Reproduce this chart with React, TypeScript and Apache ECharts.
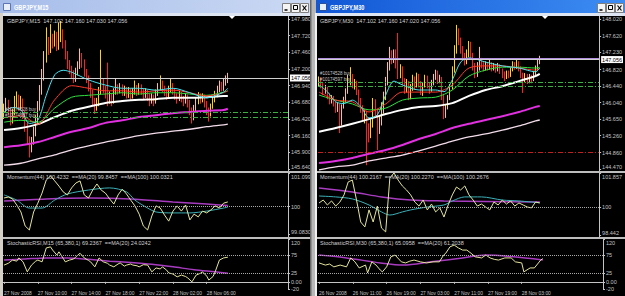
import React, { useEffect, useRef } from 'react';
import * as echarts from 'echarts';

// ---------- axes / labels ----------
const SLOTS = 135;
const LABEL_STEP = 16;
const timeLabelsL = ['27 Nov 2008', '27 Nov 10:00', '27 Nov 14:00', '27 Nov 18:00', '27 Nov 22:00', '28 Nov 02:00', '28 Nov 06:00'];
const timeLabelsR = ['26 Nov 2008', '26 Nov 11:00', '26 Nov 19:00', '27 Nov 03:00', '27 Nov 11:00', '27 Nov 19:00', '28 Nov 03:00'];

const priceTicksL = [145.64, 145.9, 146.16, 146.42, 146.68, 146.94, 147.2, 147.46, 147.72, 147.98];
const priceTicksR = [144.47, 144.86, 145.26, 145.65, 146.04, 146.44, 146.82, 147.23, 147.62, 148.02];
const priceRangeL = [145.609, 148.027];
const priceRangeR = [144.423, 148.091];
const lastPrice = 147.056;
const askPriceR = 147.1;
const orderLevelsL = [146.53, 146.45];
const orderLevelsR = [146.53, 146.43];
const stopLevelR = 144.87;

const momTicksL = [99.083, 100, 101.099];
const momTextL = ['99.0830', '100', '101.099'];
const momRangeL = [99.0, 101.099];
const momTicksR = [98.442, 100, 101.857];
const momTextR = ['98.442', '100', '101.857'];
const momRangeR = [98.36, 101.857];
const momLevel = 100;

const stochTicks = [-20, 0, 25, 75, 120];
const stochText = ['-20', '0.00', '25', '75', '120'];
const stochRange = [-20, 120];
const stochLevels = [75, 25];

// ---------- texts ----------
const titleL = 'GBPJPY,M15';
const titleR = 'GBPJPY,M30';
const headL = 'GBPJPY,M15  147.102 147.160 147.030 147.056';
const headR = 'GBPJPY,M30  147.102 147.160 147.020 147.056';
const momHeadL = 'Momentum(44) 100.4232  ==MA(20) 99.8457  ==MA(100) 100.0321';
const momHeadR = 'Momentum(44) 100.2167  ==MA(20) 100.2270  ==MA(100) 100.2676';
const stochHeadL = 'StochasticRSI,M15 (65,380,1) 69.2367  ==MA(20) 24.0242';
const stochHeadR = 'StochasticRSI,M30 (65,380,1) 65.0958  ==MA(20) 61.2038';
const orderTexts = ['#10174528 buy', '#10174597 buy'];

// ---------- candles [open, close, low, high] ----------
const candlesL = [
  [146.48, 146.58, 146.42, 146.66], [146.58, 146.66, 146.52, 146.75], [146.66, 146.55, 146.48, 146.72], [146.55, 146.40, 146.32, 146.60],
  [146.40, 146.52, 146.35, 146.58], [146.52, 146.68, 146.48, 146.78], [146.68, 146.74, 146.60, 146.85], [146.74, 146.62, 146.55, 146.80],
  [146.62, 146.70, 146.56, 146.78], [146.70, 146.50, 146.42, 146.74], [146.50, 146.30, 146.22, 146.55], [146.30, 146.10, 146.02, 146.36],
  [146.10, 145.98, 145.82, 146.15], [145.98, 146.08, 145.90, 146.14], [146.08, 146.22, 146.02, 146.30], [146.22, 146.40, 146.15, 146.48],
  [146.40, 146.62, 146.35, 146.70], [146.62, 146.85, 146.55, 146.95], [146.85, 147.10, 146.80, 147.20], [147.10, 147.38, 147.02, 147.48],
  [147.38, 147.62, 147.30, 147.85], [147.62, 147.50, 147.42, 147.70], [147.50, 147.68, 147.45, 147.90], [147.68, 147.60, 147.52, 147.75],
  [147.60, 147.72, 147.55, 147.80], [147.72, 147.55, 147.48, 147.78], [147.55, 147.70, 147.50, 147.92], [147.70, 147.78, 147.62, 147.95],
  [147.78, 147.60, 147.52, 147.82], [147.60, 147.42, 147.35, 147.65], [147.42, 147.28, 147.20, 147.48], [147.28, 147.20, 147.12, 147.34],
  [147.20, 147.12, 147.05, 147.25], [147.12, 147.05, 146.98, 147.18], [147.05, 147.15, 147.00, 147.22], [147.15, 147.25, 147.10, 147.32],
  [147.25, 147.38, 147.20, 147.52], [147.38, 147.30, 147.22, 147.45], [147.30, 147.15, 147.08, 147.35], [147.15, 147.05, 146.98, 147.20],
  [147.05, 146.92, 146.85, 147.10], [146.92, 146.82, 146.75, 146.98], [146.82, 146.70, 146.62, 146.88], [146.70, 146.60, 146.50, 146.75],
  [146.60, 146.68, 146.55, 146.75], [146.68, 146.85, 146.62, 146.92], [146.85, 147.00, 146.80, 147.50], [147.00, 146.88, 146.82, 147.05],
  [146.88, 146.80, 146.74, 146.94], [146.80, 146.72, 146.62, 147.30], [146.72, 146.78, 146.66, 146.85], [146.78, 146.70, 146.62, 146.82],
  [146.70, 146.85, 146.66, 146.90], [146.85, 146.92, 146.80, 147.05], [146.92, 146.86, 146.80, 146.96], [146.86, 146.92, 146.82, 146.98],
  [146.92, 146.84, 146.78, 146.96], [146.84, 146.88, 146.78, 146.94], [146.88, 146.80, 146.74, 146.92], [146.80, 146.86, 146.75, 146.92],
  [146.86, 146.78, 146.72, 146.90], [146.78, 146.84, 146.74, 146.90], [146.84, 146.90, 146.80, 147.02], [146.90, 146.85, 146.78, 146.95],
  [146.85, 146.92, 146.80, 146.98], [146.92, 146.86, 146.80, 146.96], [146.86, 146.80, 146.72, 146.90], [146.80, 146.85, 146.75, 146.90],
  [146.85, 146.78, 146.70, 146.88], [146.78, 146.72, 146.62, 146.82], [146.72, 146.76, 146.66, 146.82], [146.76, 146.70, 146.62, 146.80],
  [146.70, 146.82, 146.66, 146.88], [146.82, 146.92, 146.78, 146.98], [146.92, 146.98, 146.86, 147.10], [146.98, 146.90, 146.84, 147.02],
  [146.90, 146.84, 146.78, 146.94], [146.84, 146.80, 146.72, 146.88], [146.80, 146.88, 146.76, 146.94], [146.88, 146.95, 146.84, 147.06],
  [146.95, 146.86, 146.80, 146.98], [146.86, 146.78, 146.72, 146.90], [146.78, 146.74, 146.66, 146.82], [146.74, 146.80, 146.70, 146.86],
  [146.80, 146.74, 146.68, 146.84], [146.74, 146.70, 146.62, 146.78], [146.70, 146.76, 146.66, 146.82], [146.76, 146.68, 146.60, 146.80],
  [146.68, 146.56, 146.48, 146.72], [146.56, 146.45, 146.35, 146.60], [146.45, 146.58, 146.40, 146.64], [146.58, 146.70, 146.54, 146.76],
  [146.70, 146.78, 146.65, 146.84], [146.78, 146.72, 146.66, 146.82], [146.72, 146.76, 146.68, 146.82], [146.76, 146.66, 146.60, 146.80],
  [146.66, 146.55, 146.48, 146.70], [146.55, 146.50, 146.38, 146.60], [146.50, 146.62, 146.46, 146.66], [146.62, 146.72, 146.58, 146.78],
  [146.72, 146.80, 146.68, 146.86], [146.80, 146.88, 146.76, 146.94], [146.88, 146.95, 146.84, 147.02], [146.95, 146.90, 146.85, 147.00],
  [146.90, 146.98, 146.86, 147.06], [146.98, 147.02, 146.94, 147.10], [147.02, 147.056, 146.98, 147.14],
];

const candlesR = [
  [146.48, 146.58, 146.42, 146.66], [146.58, 146.45, 146.38, 146.64], [146.45, 146.30, 146.22, 146.50], [146.30, 146.38, 146.25, 146.46],
  [146.38, 146.20, 146.12, 146.42], [146.20, 146.08, 146.00, 146.26], [146.08, 146.15, 146.02, 146.22], [146.15, 146.02, 145.95, 146.20],
  [146.02, 145.90, 145.80, 146.06], [145.90, 145.98, 145.82, 146.05], [145.98, 145.85, 145.32, 146.02], [145.85, 145.95, 145.50, 146.00],
  [145.95, 146.10, 145.90, 146.18], [146.10, 146.30, 146.05, 146.38], [146.30, 146.55, 146.25, 146.70], [146.55, 146.65, 146.45, 146.88],
  [146.65, 146.45, 146.38, 146.72], [146.45, 146.52, 146.35, 146.60], [146.52, 146.30, 146.22, 146.56], [146.30, 146.10, 146.00, 146.35],
  [146.10, 145.90, 145.80, 146.15], [145.90, 145.70, 145.60, 145.98], [145.70, 145.80, 145.55, 145.88], [145.80, 145.45, 144.56, 145.85],
  [145.45, 145.30, 145.10, 145.55], [145.30, 145.55, 145.20, 145.65], [145.55, 146.05, 145.45, 146.15], [146.05, 145.85, 145.70, 146.12],
  [145.85, 145.40, 144.92, 145.90], [145.40, 145.60, 145.30, 145.70], [145.60, 145.85, 145.50, 146.05], [145.85, 146.20, 145.78, 146.30],
  [146.20, 146.55, 146.10, 146.65], [146.55, 146.90, 146.45, 147.00], [146.90, 147.20, 146.80, 147.36], [147.20, 147.05, 146.95, 147.28],
  [147.05, 147.24, 146.98, 147.30], [147.24, 146.95, 146.85, 147.30], [146.95, 146.70, 146.60, 147.69], [146.70, 146.85, 146.62, 146.95],
  [146.85, 146.55, 146.45, 146.90], [146.55, 146.35, 146.25, 146.62], [146.35, 146.50, 146.28, 146.60], [146.50, 146.20, 146.10, 146.55],
  [146.20, 146.40, 146.12, 146.48], [146.40, 146.60, 146.32, 146.70], [146.60, 146.45, 146.35, 146.66], [146.45, 146.65, 146.40, 146.75],
  [146.65, 146.50, 146.40, 146.72], [146.50, 146.30, 146.22, 146.55], [146.30, 146.45, 146.20, 146.52], [146.45, 146.62, 146.40, 146.70],
  [146.62, 146.48, 146.38, 146.68], [146.48, 146.35, 146.25, 146.52], [146.35, 146.50, 146.30, 146.58], [146.50, 146.65, 146.45, 146.72],
  [146.65, 146.75, 146.58, 146.82], [146.75, 146.55, 146.48, 146.80], [146.55, 146.60, 146.50, 146.70], [146.60, 146.20, 146.10, 146.65],
  [146.20, 145.75, 145.65, 146.25], [145.75, 145.95, 145.68, 146.00], [145.95, 146.15, 145.88, 146.22], [146.15, 146.40, 146.10, 146.48],
  [146.40, 146.80, 146.35, 146.90], [146.80, 147.25, 146.75, 147.40], [147.25, 147.65, 147.20, 147.88], [147.65, 147.50, 147.40, 147.80],
  [147.50, 147.30, 147.20, 147.58], [147.30, 147.15, 147.05, 147.38], [147.15, 147.00, 146.92, 147.22], [147.00, 147.20, 146.95, 147.30],
  [147.20, 147.42, 147.12, 147.50], [147.42, 147.15, 147.05, 147.48], [147.15, 146.90, 146.80, 147.22], [146.90, 146.70, 146.62, 146.98],
  [146.70, 146.85, 146.65, 147.00], [146.85, 147.05, 146.80, 147.36], [147.05, 146.92, 146.85, 147.10], [146.92, 146.85, 146.78, 147.00],
  [146.85, 146.95, 146.80, 147.02], [146.95, 146.88, 146.80, 147.00], [146.88, 146.95, 146.82, 147.05], [146.95, 146.85, 146.78, 147.00],
  [146.85, 146.92, 146.80, 146.98], [146.92, 146.82, 146.75, 146.96], [146.82, 146.90, 146.78, 146.98], [146.90, 146.80, 146.72, 146.95],
  [146.80, 146.72, 146.62, 146.85], [146.72, 146.68, 146.55, 146.78], [146.68, 146.75, 146.60, 146.80], [146.75, 146.70, 146.62, 146.80],
  [146.70, 146.82, 146.65, 146.88], [146.82, 146.95, 146.78, 147.02], [146.95, 146.88, 146.82, 147.00], [146.88, 146.98, 146.84, 147.05],
  [146.98, 146.85, 146.78, 147.02], [146.85, 146.70, 146.62, 146.90], [146.70, 146.60, 146.27, 146.75], [146.60, 146.68, 146.52, 146.74],
  [146.68, 146.58, 146.48, 146.72], [146.58, 146.66, 146.50, 146.72], [146.66, 146.58, 146.50, 146.70], [146.58, 146.72, 146.55, 146.78],
  [146.72, 146.85, 146.68, 146.92], [146.85, 146.98, 146.80, 147.05], [146.98, 147.056, 146.95, 147.15],
];

// ---------- moving averages [barIndex, price] ----------
const cyanL = [[0, 146.53], [4, 146.6], [8, 146.56], [12, 146.35], [16, 146.4], [20, 146.79], [24, 147.11], [28, 147.18], [32, 147.15], [40, 147.03], [48, 146.95], [56, 146.9], [64, 146.9], [72, 146.87], [80, 146.9], [88, 146.83], [96, 146.75], [104, 146.84], [106, 146.9]];
const redL = [[0, 146.44], [8, 146.47], [16, 146.34], [24, 146.72], [32, 146.94], [40, 146.9], [48, 146.86], [56, 146.86], [64, 146.84], [72, 146.86], [80, 146.87], [88, 146.83], [96, 146.78], [104, 146.83], [106, 146.86]];
const greenL = [[0, 146.37], [8, 146.4], [16, 146.37], [24, 146.59], [32, 146.76], [40, 146.79], [48, 146.81], [56, 146.83], [64, 146.81], [72, 146.83], [80, 146.83], [88, 146.81], [96, 146.79], [104, 146.84], [106, 146.86]];
const whiteL = [[0, 146.25], [8, 146.28], [16, 146.34], [24, 146.45], [32, 146.55], [40, 146.61], [48, 146.67], [56, 146.7], [64, 146.72], [72, 146.73], [80, 146.75], [88, 146.75], [96, 146.76], [104, 146.78], [106, 146.78]];
const magentaL = [[0, 145.98], [8, 146.01], [16, 146.06], [24, 146.14], [32, 146.22], [40, 146.28], [48, 146.36], [56, 146.4], [64, 146.45], [72, 146.48], [80, 146.51], [88, 146.53], [96, 146.55], [104, 146.56], [106, 146.58]];
const pinkL = [[0, 145.7], [8, 145.73], [16, 145.8], [24, 145.86], [32, 145.94], [40, 146.0], [48, 146.06], [56, 146.11], [64, 146.16], [72, 146.2], [80, 146.23], [88, 146.26], [96, 146.3], [104, 146.33], [106, 146.34]];

const cyanR = [[0, 146.46], [4, 146.3], [8, 146.06], [12, 146.02], [16, 146.1], [20, 145.95], [24, 145.68], [28, 145.75], [32, 146.22], [36, 146.55], [40, 146.46], [48, 146.34], [56, 146.34], [60, 146.3], [64, 146.58], [68, 147.0], [72, 147.1], [80, 147.0], [88, 146.91], [96, 146.86], [104, 146.77], [106, 146.86]];
const redR = [[0, 146.29], [8, 146.1], [16, 146.06], [24, 145.82], [32, 146.01], [40, 146.29], [48, 146.29], [56, 146.29], [64, 146.46], [72, 146.86], [80, 146.91], [88, 146.91], [96, 146.86], [104, 146.81], [106, 146.86]];
const greenR = [[0, 146.22], [8, 146.1], [16, 146.01], [24, 145.87], [32, 145.91], [40, 146.1], [48, 146.15], [56, 146.17], [64, 146.34], [72, 146.67], [80, 146.81], [88, 146.88], [96, 146.88], [104, 146.86], [106, 146.88]];
const whiteR = [[0, 145.35], [8, 145.44], [16, 145.54], [24, 145.65], [32, 145.77], [40, 145.87], [48, 145.94], [56, 145.96], [64, 146.03], [72, 146.2], [80, 146.34], [88, 146.43], [96, 146.55], [104, 146.67], [106, 146.72]];
const magentaR = [[0, 144.61], [8, 144.66], [16, 144.73], [24, 144.83], [32, 144.92], [40, 145.04], [48, 145.18], [56, 145.3], [64, 145.44], [72, 145.54], [80, 145.63], [88, 145.72], [96, 145.82], [104, 145.94], [106, 145.96]];
const pinkR = [[0, 144.45], [8, 144.52], [16, 144.56], [24, 144.66], [32, 144.73], [40, 144.8], [48, 144.9], [56, 145.01], [64, 145.13], [72, 145.23], [80, 145.3], [88, 145.39], [96, 145.49], [104, 145.61], [106, 145.63]];

// ---------- momentum ----------
const momL = [[0, 100.28], [2, 100.31], [4, 100.25], [6, 100.05], [8, 99.82], [10, 99.36], [12, 99.23], [14, 99.82], [16, 100.11], [18, 100.44], [20, 100.87], [22, 101.0], [24, 100.84], [26, 100.67], [28, 100.48], [30, 100.38], [32, 100.61], [34, 100.77], [36, 100.84], [38, 100.38], [40, 100.28], [42, 100.54], [44, 100.74], [46, 100.54], [48, 100.44], [50, 100.25], [52, 100.08], [54, 100.38], [56, 100.57], [58, 100.41], [60, 100.21], [62, 100.02], [64, 99.75], [66, 99.36], [68, 99.23], [70, 99.69], [72, 100.02], [74, 99.95], [76, 99.72], [78, 99.52], [80, 99.85], [82, 100.02], [84, 99.85], [86, 100.05], [88, 99.56], [90, 99.75], [92, 99.66], [94, 99.85], [96, 99.79], [98, 99.89], [100, 100.02], [102, 99.95], [104, 100.11], [106, 100.15]];
const momMa20L = [[0, 100.38], [6, 100.21], [12, 99.95], [18, 99.95], [24, 100.21], [30, 100.41], [40, 100.54], [50, 100.61], [58, 100.48], [62, 100.21], [68, 99.95], [72, 99.82], [80, 99.79], [88, 99.79], [96, 99.85], [104, 99.95], [106, 99.98]];
const momMa100L = [[0, 100.18], [20, 100.25], [40, 100.28], [60, 100.25], [80, 100.15], [96, 100.08], [106, 100.03]];

const momR = [[0, 100.22], [2, 100.38], [4, 100.11], [6, 100.33], [8, 100.05], [10, 100.27], [12, 100.66], [14, 101.37], [16, 101.47], [18, 100.38], [20, 99.18], [22, 98.91], [24, 99.84], [26, 99.18], [28, 100.05], [30, 98.85], [32, 98.64], [34, 101.58], [36, 101.86], [38, 101.47], [40, 101.15], [42, 100.93], [44, 100.66], [46, 100.27], [48, 100.05], [50, 100.38], [52, 99.84], [54, 100.16], [56, 99.73], [58, 99.95], [60, 99.45], [62, 100.11], [64, 100.66], [66, 101.09], [68, 100.93], [70, 101.15], [72, 100.66], [74, 100.38], [76, 100.05], [78, 100.16], [80, 100.0], [82, 99.84], [84, 100.27], [86, 100.11], [88, 100.38], [90, 100.16], [92, 100.33], [94, 100.05], [96, 100.22], [98, 100.11], [100, 100.0], [102, 99.95], [104, 100.27], [106, 100.22]];
const momMa20R = [[0, 100.6], [8, 100.55], [16, 100.44], [24, 100.11], [30, 99.73], [34, 99.56], [40, 99.73], [44, 99.84], [52, 100.0], [60, 100.11], [64, 100.33], [70, 100.55], [78, 100.55], [88, 100.38], [96, 100.33], [106, 100.23]];
const momMa100R = [[0, 101.04], [16, 100.82], [30, 100.55], [44, 100.38], [60, 100.33], [80, 100.3], [106, 100.27]];

// ---------- stochastic RSI ----------
const stochL = [[0, 47], [2, 52], [4, 61], [6, 58], [7, 67], [9, 56], [11, 28], [13, 47], [15, 58], [16, 61], [18, 56], [20, 95], [22, 98], [23, 89], [25, 75], [26, 84], [28, 66], [29, 56], [31, 61], [33, 64], [34, 70], [36, 80], [38, 67], [40, 60], [41, 56], [43, 42], [45, 67], [47, 56], [49, 52], [50, 47], [52, 42], [54, 50], [55, 53], [57, 44], [58, 47], [60, 50], [61, 47], [63, 45], [64, 42], [66, 48], [68, 47], [70, 28], [72, 39], [74, 36], [75, 42], [77, 33], [78, 25], [80, 22], [82, 14], [84, 19], [86, 15], [87, 11], [89, 0], [91, 19], [93, 24], [94, 28], [96, 16], [97, 5], [99, 15], [100, 28], [102, 61], [104, 67], [106, 69]];
const stochMaL = [[0, 61], [10, 64], [20, 67], [30, 67], [40, 63], [50, 58], [60, 54], [70, 49], [80, 42], [90, 34], [100, 28], [106, 24]];
const stochR = [[0, 53], [3, 47], [5, 50], [7, 42], [10, 47], [13, 42], [15, 67], [17, 56], [19, 39], [22, 47], [23, 25], [25, 56], [27, 47], [29, 33], [30, 28], [32, 42], [34, 70], [36, 75], [39, 56], [41, 53], [43, 58], [45, 61], [48, 56], [51, 53], [54, 56], [57, 56], [59, 75], [60, 80], [62, 98], [64, 103], [66, 95], [68, 89], [70, 89], [72, 80], [74, 70], [77, 67], [79, 75], [81, 67], [83, 63], [85, 61], [88, 67], [91, 67], [93, 56], [96, 53], [97, 28], [100, 39], [102, 39], [105, 61], [106, 65]];
const stochMaR = [[0, 75], [13, 67], [29, 53], [40, 47], [53, 56], [68, 67], [79, 75], [92, 70], [106, 61]];

// ---------- styling ----------
const FONT = '"Liberation Sans", Arial, sans-serif';
const AX = '#c4c4c4';
const BULL = '#ffd21a';
const BEAR = '#ff2020';
const slots = Array.from({ length: SLOTS }, (_, i) => String(i));

const nearest = (arr: number[], v: number) => {
  let b = 0;
  arr.forEach((a, i) => { if (Math.abs(a - v) < Math.abs(arr[b] - v)) b = i; });
  return b;
};

function xAxisFor(grid: number, labels: string[] | null) {
  const show = !!labels;
  const pick = (i: number) => !!labels && i % LABEL_STEP === 0 && i / LABEL_STEP < labels.length;
  return {
    type: 'category', gridIndex: grid, data: slots, boundaryGap: true,
    axisLine: { show, lineStyle: { color: AX, width: 1 } },
    axisTick: { show, alignWithLabel: true, interval: (i: number) => pick(i), length: 2, lineStyle: { color: AX } },
    axisLabel: {
      show, interval: (i: number) => pick(i),
      formatter: (_v: string, i: number) => (labels ? labels[Math.round(i / LABEL_STEP)] || '' : ''),
      align: 'left', fontSize: 4.9, color: AX, margin: 2, fontFamily: FONT,
    },
    splitLine: { show: false },
  };
}

const labelRich = {
  dn: { padding: [7, 0, 0, 0], fontSize: 5.5, color: AX, fontFamily: FONT },
  up: { padding: [0, 0, 4, 0], fontSize: 5.5, color: AX, fontFamily: FONT },
};

function yAxisFor(grid: number, range: number[], ticks: number[], texts: string[], shifts: string[] = []) {
  return {
    type: 'value', gridIndex: grid, position: 'right', min: range[0], max: range[1], scale: true,
    splitLine: { show: false },
    axisLine: { show: true, lineStyle: { color: AX } },
    axisTick: { show: true, customValues: ticks, length: 2, lineStyle: { color: AX } },
    axisLabel: {
      customValues: ticks,
      formatter: (v: number) => {
        const i = nearest(ticks, v);
        return shifts[i] ? `{${shifts[i]}|${texts[i]}}` : texts[i];
      },
      rich: labelRich,
      fontSize: 5.5, color: AX, margin: 3, fontFamily: FONT,
    },
  };
}

const line = (data: number[][], color: string, width: number, idx: number, smooth: number | boolean = 0.3, z = 3) => ({
  type: 'line', xAxisIndex: idx, yAxisIndex: idx, data, symbol: 'none', showSymbol: false, smooth, silent: true, z,
  lineStyle: { color, width },
});

const levelLine = (v: number, color: string, type: any) => ({ yAxis: v, lineStyle: { color, width: 1, type }, label: { show: false } });

function windowSeries(k: number, d: any) {
  return [
    {
      type: 'candlestick', xAxisIndex: k, yAxisIndex: k, data: d.candles, barWidth: 1.2, silent: true, z: 2,
      itemStyle: { color: BULL, color0: BEAR, borderColor: BULL, borderColor0: BEAR, borderWidth: 1 },
      markLine: {
        silent: true, symbol: ['none', 'none'], animation: false,
        data: [
          ...d.orders.map((v: number) => levelLine(v, '#3cb043', [5, 2, 1, 2])),
          ...(d.stop ? [levelLine(d.stop, '#c02020', [5, 2, 1, 2])] : []),
          ...(d.ask ? [levelLine(d.ask, '#b490e0', 'solid')] : []),
          {
            yAxis: lastPrice, lineStyle: { color: '#d0d0d0', width: 1, type: 'solid' },
            label: {
              show: true, position: 'end', formatter: lastPrice.toFixed(3), backgroundColor: '#ffffff', color: '#000000',
              fontSize: 5.5, padding: [1, 1, 0, 1], distance: 2, fontFamily: FONT,
            },
          },
        ],
      },
    },
    line(d.pink, '#f2dcea', 1.3, k),
    line(d.magenta, '#e030e0', 2, k),
    line(d.white, '#ffffff', 2, k),
    line(d.green, '#2fe040', 1, k),
    line(d.red, '#ff3a2a', 1, k),
    line(d.cyan, '#48e4f4', 1, k),
    {
      ...line(d.momMa100, '#a83cc0', 1.5, k + 1),
      markLine: { silent: true, symbol: ['none', 'none'], animation: false, data: [levelLine(momLevel, '#a8a8a8', 'dotted')] },
    },
    line(d.momMa20, '#3cb0b8', 1, k + 1),
    line(d.mom, '#e4e49c', 1, k + 1, false, 4),
    {
      ...line(d.stochMa, '#a83cc0', 1.5, k + 2),
      markLine: { silent: true, symbol: ['none', 'none'], animation: false, data: stochLevels.map((v) => levelLine(v, '#a8a8a8', 'dotted')) },
    },
    line(d.stoch, '#e4e49c', 1, k + 2, false, 4),
  ];
}

const txt = (x: number, y: number, text: string, size: number, fill: string, opts: any = {}) => ({
  type: 'text', x, y, z: 100, scaleX: opts.scaleX || 1,
  style: {
    text, fill, fontSize: size, fontFamily: FONT, fontWeight: opts.bold ? 'bold' : 'normal',
    align: 'left', verticalAlign: 'middle', textAlign: 'left', textVerticalAlign: 'middle',
  },
});
const rect = (x: number, y: number, w: number, h: number, fill: any, stroke?: string) => ({
  type: 'rect', z: 90, shape: { x, y, width: w, height: h }, style: stroke ? { fill, stroke, lineWidth: 1 } : { fill },
});
const seg = (x1: number, y1: number, x2: number, y2: number, stroke: string, w = 1) => ({
  type: 'line', z: 95, shape: { x1, y1, x2, y2 }, style: { stroke, lineWidth: w },
});

function buttons(x0: number) {
  const els: any[] = [];
  [0, 9, 18].forEach((dx, i) => {
    const x = x0 + dx;
    els.push(rect(x + 0.5, 3.5, 8, 9, '#f4f4f4', '#7f7f7f'));
    if (i === 0) els.push(seg(x + 2.5, 10, x + 5.5, 10, '#000', 1.5));
    if (i === 1) els.push({ type: 'rect', z: 96, shape: { x: x + 2.5, y: 5.5, width: 4, height: 4 }, style: { fill: 'none', stroke: '#000', lineWidth: 1 } });
    if (i === 2) { els.push(seg(x + 2.5, 5.5, x + 6.5, 10.5, '#000', 1.2)); els.push(seg(x + 6.5, 5.5, x + 2.5, 10.5, '#000', 1.2)); }
  });
  return els;
}

function chrome() {
  const gradL = new echarts.graphic.LinearGradient(0, 0, 1, 0, [{ offset: 0, color: '#a6bdea' }, { offset: 1, color: '#cbd9f3' }]);
  const gradR = new echarts.graphic.LinearGradient(0, 0, 1, 0, [{ offset: 0, color: '#1157d6' }, { offset: 1, color: '#3d8cf2' }]);
  return [
    rect(0, 0, 310, 13, gradL),
    rect(316, 0, 309, 13, gradR),
    rect(0, 13, 310, 3, '#dde4f2'),
    rect(316, 13, 309, 3, '#dde4f2'),
    rect(0, 13, 3, 283, '#d4d0c8'),
    rect(310, 0, 6, 296, '#b8b8b8'),
    rect(310, 0, 1.5, 296, '#6a6a6a'),
    rect(315, 13, 2, 283, '#f0f0f0'),
    rect(3, 171, 307, 2, '#bdbdbd'),
    rect(3, 237, 307, 2, '#bdbdbd'),
    rect(317, 171, 308, 2, '#bdbdbd'),
    rect(317, 237, 308, 2, '#bdbdbd'),
    // icons
    rect(3.5, 3.5, 7, 7, '#e8eef8', '#5b76b2'),
    rect(319.5, 3.5, 7, 7, '#e8eef8', '#2a4f9a'),
    txt(14, 7, titleL, 8, '#ffffff', { bold: true, scaleX: 0.7 }),
    txt(330, 7, titleR, 8, '#ffffff', { bold: true, scaleX: 0.7 }),
    ...buttons(282),
    ...buttons(597),
    // shift markers
    { type: 'polygon', z: 100, shape: { points: [[229, 16], [235, 16], [232, 19]] }, style: { fill: '#ffffff' } },
    { type: 'polygon', z: 100, shape: { points: [[542, 16], [548, 16], [545, 19]] }, style: { fill: '#ffffff' } },
    // panel headers
    txt(7, 21, headL, 5.5, '#d0d0d0'),
    txt(320, 21, headR, 5.5, '#d0d0d0'),
    txt(7, 176.5, momHeadL, 5.5, '#d0d0d0'),
    txt(320, 176.5, momHeadR, 5.5, '#d0d0d0'),
    txt(7, 243, stochHeadL, 5.5, '#d0d0d0'),
    txt(320, 243, stochHeadR, 5.5, '#d0d0d0'),
    txt(5, 109, orderTexts[0], 4.5, '#c8c8c8'),
    txt(5, 115, orderTexts[1], 4.5, '#c8c8c8'),
    txt(320, 73, orderTexts[0], 4.5, '#c8c8c8'),
    txt(320, 79, orderTexts[1], 4.5, '#c8c8c8'),
  ];
}

export default function App() {
  const ref = useRef<HTMLDivElement>(null);
  useEffect(() => {
    if (!ref.current) return;
    const chart = echarts.init(ref.current, null, { renderer: 'svg' });
    const grids = [
      { left: 3, top: 16, width: 285, height: 155 },
      { left: 3, top: 173, width: 285, height: 64 },
      { left: 3, top: 239, width: 285, height: 50 },
      { left: 318, top: 16, width: 285, height: 155 },
      { left: 318, top: 173, width: 285, height: 64 },
      { left: 318, top: 239, width: 285, height: 50 },
    ];
    const priceShifts = ['up'];
    const momShifts = ['up', '', 'dn'];
    const stochShifts = ['', '', '', '', 'dn'];
    const option: any = {
      animation: false,
      backgroundColor: '#000000',
      grid: grids,
      xAxis: [
        xAxisFor(0, null), xAxisFor(1, null), xAxisFor(2, timeLabelsL),
        xAxisFor(3, null), xAxisFor(4, null), xAxisFor(5, timeLabelsR),
      ],
      yAxis: [
        yAxisFor(0, priceRangeL, priceTicksL, priceTicksL.map((v) => v.toFixed(3)), priceShifts),
        yAxisFor(1, momRangeL, momTicksL, momTextL, momShifts),
        yAxisFor(2, stochRange, stochTicks, stochText, stochShifts),
        yAxisFor(3, priceRangeR, priceTicksR, priceTicksR.map((v) => v.toFixed(3)), priceShifts),
        yAxisFor(4, momRangeR, momTicksR, momTextR, momShifts),
        yAxisFor(5, stochRange, stochTicks, stochText, stochShifts),
      ],
      series: [
        ...windowSeries(0, {
          candles: candlesL, orders: orderLevelsL, stop: null, ask: null,
          pink: pinkL, magenta: magentaL, white: whiteL, green: greenL, red: redL, cyan: cyanL,
          mom: momL, momMa20: momMa20L, momMa100: momMa100L, stoch: stochL, stochMa: stochMaL,
        }),
        ...windowSeries(3, {
          candles: candlesR, orders: orderLevelsR, stop: stopLevelR, ask: askPriceR,
          pink: pinkR, magenta: magentaR, white: whiteR, green: greenR, red: redR, cyan: cyanR,
          mom: momR, momMa20: momMa20R, momMa100: momMa100R, stoch: stochR, stochMa: stochMaR,
        }),
      ],
      graphic: { elements: chrome() },
    };
    chart.setOption(option);
    return () => chart.dispose();
  }, []);
  return <div ref={ref} style={{ position: 'fixed', left: 0, top: 0, width: 625, height: 296, background: '#000' }} />;
}
